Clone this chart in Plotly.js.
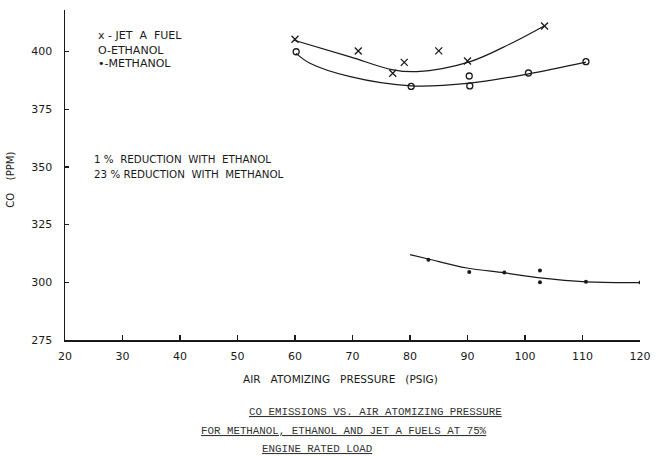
<!DOCTYPE html>
<html>
<head>
<meta charset="utf-8">
<script src="https://cdn.plot.ly/plotly-3.0.1.min.js"></script>
<style>html,body{margin:0;padding:0;background:#fff;}#chart{width:657px;height:456px;}</style>
</head>
<body>
<div id="chart"></div>
<script>
// ---- data ----
const jetX = [60, 71, 77, 79, 85, 90, 103.4];
const jetY = [405.3, 400.2, 390.6, 395.3, 400.3, 395.9, 411.1];
const ethX = [60.2, 80.2, 90.3, 90.4, 100.6, 110.6];
const ethY = [399.9, 384.9, 389.4, 385.1, 390.7, 395.6];
const metX = [83.2, 90.3, 96.4, 102.6, 102.6, 110.6, 120.1];
const metY = [309.8, 304.5, 304.3, 305.1, 300.0, 300.2, 299.9];

// fitted curves as drawn in the picture
const jetFitX = [59.7, 69.6, 76.8, 81.2, 90.2, 97.4, 103.4];
const jetFitY = [405.0, 397.7, 392.2, 391.3, 395.4, 403.3, 411.2];
const ethFitX = [60.2, 62.6, 69.6, 80.2, 90.4, 100.6, 110.6];
const ethFitY = [399.2, 394.9, 389.1, 385.1, 386.3, 390.3, 395.4];
const metFitX = [80.0, 83.2, 89.9, 96.4, 102.6, 110.6, 120.1];
const metFitY = [312.0, 310.1, 306.2, 304.1, 301.9, 300.2, 299.9];

const xTicks = [20, 30, 40, 50, 60, 70, 80, 90, 100, 110, 120];
const yTicks = [275, 300, 325, 350, 375, 400];

const legendLines = ["x - JET\u00a0 A\u00a0 FUEL", "O-ETHANOL", "\u2022-METHANOL"];
const noteLines = ["1\u00a0%\u00a0 REDUCTION\u00a0 WITH\u00a0 ETHANOL", "23\u00a0% REDUCTION\u00a0 WITH\u00a0 METHANOL"];
const xTitle = "AIR\u00a0\u00a0 ATOMIZING\u00a0\u00a0 PRESSURE\u00a0\u00a0 (PSIG)";
const yTitle = "CO\u00a0\u00a0\u00a0 (PPM)";
const captionLines = [
  "CO EMISSIONS VS. AIR ATOMIZING PRESSURE",
  "FOR METHANOL, ETHANOL AND JET A FUELS AT 75%",
  "ENGINE RATED LOAD"
];

// ---- layout geometry (pixels) ----
const W = 657, H = 456;
const M = {l: 65, r: 17, t: 10, b: 115.5};
const PW = W - M.l - M.r, PH = H - M.t - M.b;
const px = x => (x - M.l) / PW;
const py = y => (H - M.b - y) / PH;

const ink = '#1a1a1a';
const letterFont = {family: 'DejaVu Sans, sans-serif', size: 11, color: ink};
const typeFont = {family: 'Liberation Mono, monospace', size: 10.8, color: '#333', lineposition: 'under'};

const traces = [
  {x: jetFitX, y: jetFitY, mode: 'lines', line: {shape: 'spline', color: ink, width: 1.2}, hoverinfo: 'skip'},
  {x: ethFitX, y: ethFitY, mode: 'lines', line: {shape: 'spline', color: ink, width: 1.2}, hoverinfo: 'skip'},
  {x: metFitX, y: metFitY, mode: 'lines', line: {shape: 'spline', color: ink, width: 1.2}, hoverinfo: 'skip'},
  {x: jetX, y: jetY, mode: 'markers', marker: {symbol: 'x-thin-open', size: 7, color: ink, line: {color: ink, width: 1.3}}},
  {x: ethX, y: ethY, mode: 'markers', marker: {symbol: 'circle-open', size: 6, color: ink, line: {color: ink, width: 1.3}}},
  {x: metX, y: metY, mode: 'markers', marker: {symbol: 'circle', size: 4, color: ink}}
];

const annotations = [];
const legendY = [36, 51, 64];
legendLines.forEach((t, i) => annotations.push({
  text: t, xref: 'paper', yref: 'paper', x: px(96), y: py(legendY[i]),
  xanchor: 'left', yanchor: 'middle', showarrow: false, font: letterFont
}));
const noteY = [159, 174];
noteLines.forEach((t, i) => annotations.push({
  text: t, xref: 'paper', yref: 'paper', x: px(92), y: py(noteY[i]),
  xanchor: 'left', yanchor: 'middle', showarrow: false, font: Object.assign({}, letterFont, {size: 10.3})
}));
annotations.push({
  text: xTitle, xref: 'paper', yref: 'paper', x: px(340), y: py(380),
  xanchor: 'center', yanchor: 'middle', showarrow: false, font: Object.assign({}, letterFont, {size: 10.5})
});
annotations.push({
  text: yTitle, xref: 'paper', yref: 'paper', x: px(11), y: py(180), textangle: -90,
  xanchor: 'center', yanchor: 'middle', showarrow: false, font: Object.assign({}, letterFont, {size: 10})
});
const capX = [247, 199, 260];
const capY = [413, 432, 450];
captionLines.forEach((t, i) => annotations.push({
  text: t, xref: 'paper', yref: 'paper', x: px(capX[i]), y: py(capY[i]),
  xanchor: 'left', yanchor: 'middle', showarrow: false, font: typeFont
}));

const layout = {
  width: W, height: H,
  margin: M,
  paper_bgcolor: '#fff', plot_bgcolor: '#fff',
  showlegend: false,
  xaxis: {
    range: [20, 120], tickvals: xTicks, ticktext: xTicks.map(String),
    ticks: 'inside', ticklen: 5, tickwidth: 1.2, tickcolor: ink,
    showline: true, linecolor: ink, linewidth: 1.5, showgrid: false, zeroline: false,
    tickfont: letterFont, ticklabelstandoff: 5
  },
  yaxis: {
    range: [275, 418], tickvals: yTicks, ticktext: yTicks.map(String),
    ticks: 'inside', ticklen: 4, tickwidth: 1.2, tickcolor: ink,
    showline: true, linecolor: ink, linewidth: 1.5, showgrid: false, zeroline: false,
    tickfont: letterFont, ticklabelstandoff: 9
  },
  annotations: annotations
};

Plotly.newPlot('chart', traces, layout, {staticPlot: true, displayModeBar: false});
</script>
</body>
</html>
